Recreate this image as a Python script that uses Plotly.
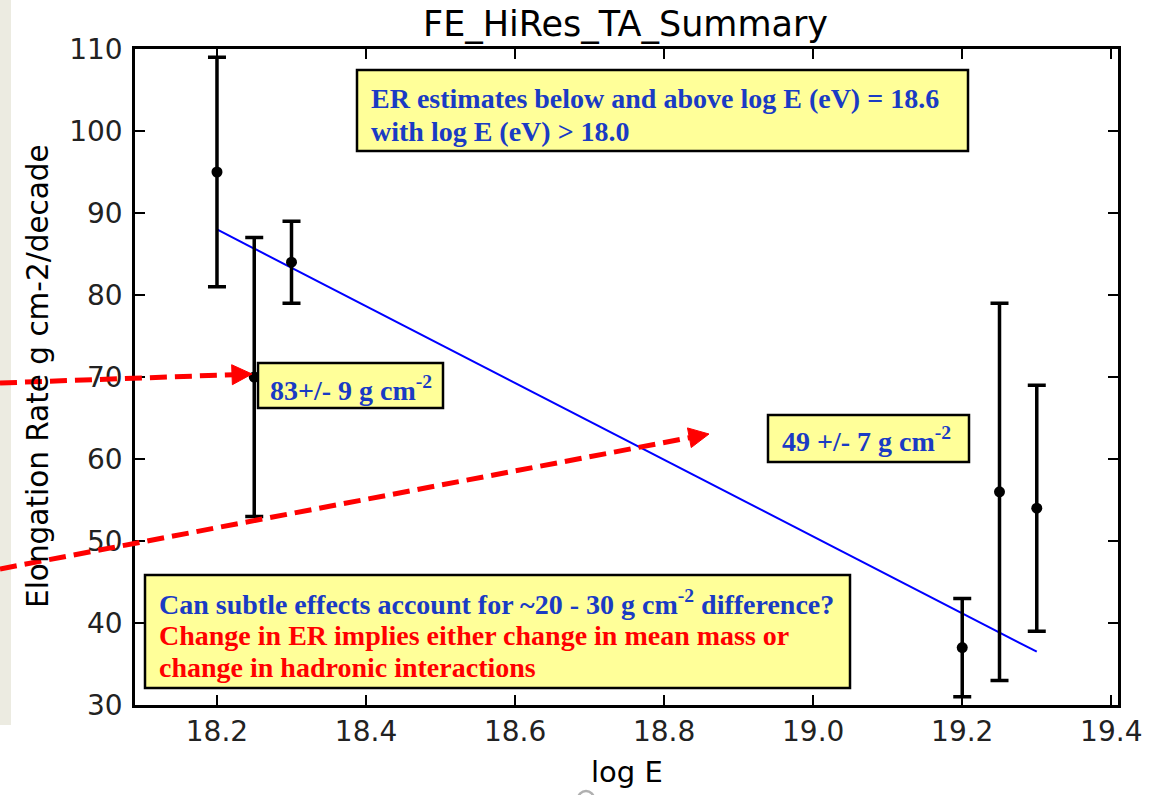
import math
import plotly.graph_objects as go

# ---------------- data ----------------
log_e = [18.2, 18.25, 18.3, 19.2, 19.25, 19.3]
elong_rate = [95, 70, 84, 37, 56, 54]
elong_err = [14, 17, 5, 6, 23, 15]
fit_x = [18.2, 19.3]
fit_y = [88.0, 36.5]
x_ticks = [18.2, 18.4, 18.6, 18.8, 19.0, 19.2, 19.4]
x_tick_text = ["18.2", "18.4", "18.6", "18.8", "19.0", "19.2", "19.4"]
y_ticks = [30, 40, 50, 60, 70, 80, 90, 100, 110]

# ---------------- geometry ----------------
W, H = 1166, 795
L, R, T, B = 135, 1118, 49, 705  # plot area in pixels


def px_x(px):
    return (px - L) / (R - L)


def px_y(py):
    return (B - py) / (B - T)


BLUE_TXT = "#1a3bc4"
RED = "#ff0000"
YELLOW = "#ffff99"
SERIF = "Liberation Serif"
SANS = "DejaVu Sans"

fig = go.Figure()

fig.add_trace(go.Scatter(
    x=fit_x, y=fit_y, mode="lines",
    line=dict(color="#0000ff", width=2),
    showlegend=False, hoverinfo="skip",
))

fig.add_trace(go.Scatter(
    x=log_e, y=elong_rate, mode="markers",
    marker=dict(color="black", size=11),
    error_y=dict(type="data", array=elong_err, visible=True,
                 color="black", thickness=3.5, width=9),
    showlegend=False,
))

shapes = []
annotations = []

# beige strip on the far left
shapes.append(dict(type="rect", xref="paper", yref="paper",
                   x0=px_x(0), x1=px_x(11), y0=px_y(0), y1=px_y(725),
                   fillcolor="#ecebe1", line=dict(width=0), layer="below"))

# small grey arc at the bottom
shapes.append(dict(type="circle", xref="paper", yref="paper",
                   x0=px_x(578), x1=px_x(594), y0=px_y(791), y1=px_y(807),
                   line=dict(color="#b0b0b0", width=2.5), layer="above"))

# yellow boxes
boxes = [(357, 70, 968, 151), (258, 363, 443, 408), (768, 415, 969, 462), (145, 575, 850, 688)]
for x0, y0, x1, y1 in boxes:
    shapes.append(dict(type="rect", xref="paper", yref="paper",
                       x0=px_x(x0), x1=px_x(x1), y0=px_y(y0), y1=px_y(y1),
                       fillcolor=YELLOW, line=dict(color="black", width=2.5),
                       layer="above"))

# red dashed arrows (start pixel -> tip pixel)
arrows = [((0, 383), (252, 374)), ((0, 569), (709, 434))]
for (sx, sy), (tx, ty) in arrows:
    dx, dy = tx - sx, ty - sy
    ln = math.hypot(dx, dy)
    ux, uy = dx / ln, dy / ln
    hl, hw = 20, 10
    bx, by = tx - ux * hl, ty - uy * hl
    px_, py_ = -uy, ux
    shapes.append(dict(type="line", xref="paper", yref="paper",
                       x0=px_x(sx), y0=px_y(sy), x1=px_x(bx + ux * 2), y1=px_y(by + uy * 2),
                       line=dict(color=RED, width=5, dash="17px,8px"), layer="above"))
    c1 = (px_x(bx + px_ * hw), px_y(by + py_ * hw))
    c2 = (px_x(bx - px_ * hw), px_y(by - py_ * hw))
    tip = (px_x(tx), px_y(ty))
    path = f"M {c1[0]},{c1[1]} L {tip[0]},{tip[1]} L {c2[0]},{c2[1]} Z"
    shapes.append(dict(type="path", xref="paper", yref="paper", path=path,
                       fillcolor=RED, line=dict(color=RED, width=1), layer="above"))

# box texts (text, color, left px, center y px)
box_lines = [
    ("ER estimates below and above log E (eV) = 18.6", BLUE_TXT, 369, 98),
    ("with log E (eV) &gt; 18.0", BLUE_TXT, 369, 131),
    ("83+/- 9 g cm<sup>-2</sup>", BLUE_TXT, 268, 388),
    ("49 +/- 7 g cm<sup>-2</sup>", BLUE_TXT, 780, 440),
    ("Can subtle effects account for ~20 - 30 g cm<sup>-2</sup> difference?", BLUE_TXT, 157, 602),
    ("Change in ER implies either change in mean mass or", RED, 157, 635),
    ("change in hadronic interactions", RED, 157, 667),
]
for txt, col, lx, cy in box_lines:
    annotations.append(dict(text=txt, xref="paper", yref="paper",
                            x=px_x(lx), y=px_y(cy), xanchor="left", yanchor="middle",
                            showarrow=False,
                            font=dict(family=SERIF, size=28, color=col, weight="bold")))

# title and axis titles
annotations.append(dict(text="FE_HiRes_TA_Summary", xref="paper", yref="paper",
                        x=px_x(625), y=px_y(24), xanchor="center", yanchor="middle",
                        showarrow=False, font=dict(family=SANS, size=35, color="black")))
annotations.append(dict(text="log E", xref="paper", yref="paper",
                        x=px_x(627), y=px_y(772), xanchor="center", yanchor="middle",
                        showarrow=False, font=dict(family=SANS, size=29, color="black")))
annotations.append(dict(text="Elongation Rate g cm-2/decade", xref="paper", yref="paper",
                        x=px_x(38), y=px_y(376), xanchor="center", yanchor="middle",
                        textangle=-90, showarrow=False,
                        font=dict(family=SANS, size=29.5, color="black")))

axis_common = dict(showgrid=False, zeroline=False, showline=True, linecolor="black",
                   linewidth=2.5, mirror="ticks", ticks="inside", ticklen=10,
                   tickwidth=1.8, tickcolor="black",
                   tickfont=dict(family=SANS, size=28, color="#222222"))

fig.update_xaxes(range=[18.09, 19.409], tickvals=x_ticks, ticktext=x_tick_text,
                 ticklabelstandoff=0, **axis_common)
fig.update_yaxes(range=[30, 110], tickvals=y_ticks, ticklabelstandoff=4, **axis_common)

fig.update_layout(
    width=W, height=H, autosize=False,
    margin=dict(l=L, r=W - R, t=T, b=H - B, pad=0),
    paper_bgcolor="white", plot_bgcolor="white",
    shapes=shapes, annotations=annotations,
    showlegend=False,
)

fig.write_html("out.html")
